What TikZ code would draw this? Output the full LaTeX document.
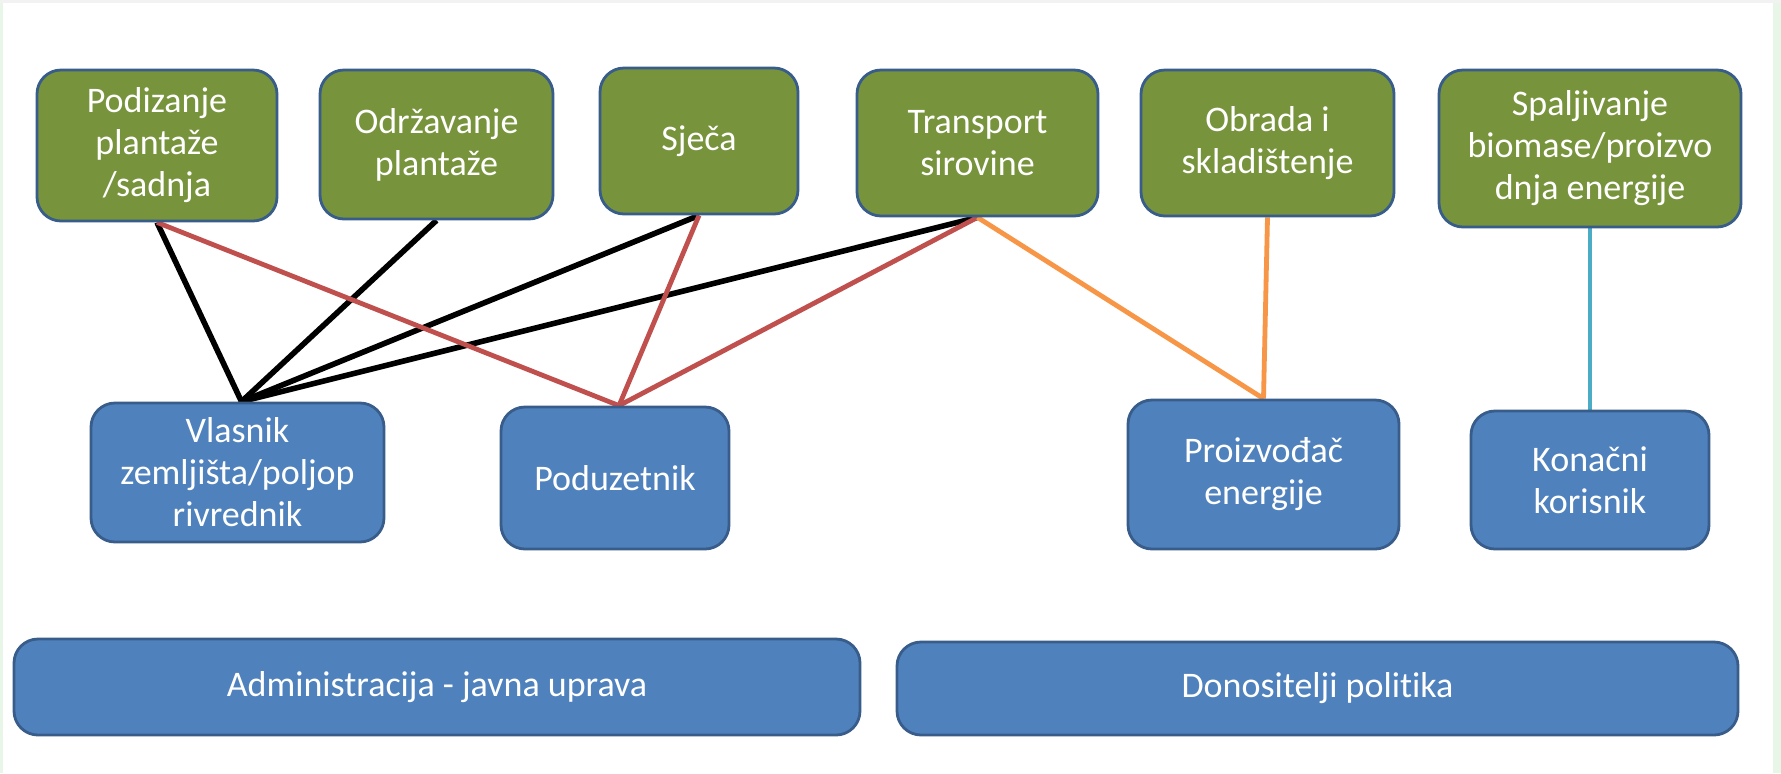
\documentclass[tikz,border=0pt]{standalone}
\usepackage{fontspec}
\setmainfont{Carlito}[Ligatures=NoCommon]
\usetikzlibrary{backgrounds}
\definecolor{stage}{RGB}{119,147,60}
\definecolor{actor}{RGB}{79,129,189}
\definecolor{edge}{RGB}{56,93,138}
\definecolor{linkred}{RGB}{192,80,77}
\definecolor{linkorange}{RGB}{247,150,70}
\definecolor{linkcyan}{RGB}{75,172,198}
\definecolor{rim}{RGB}{232,246,232}
\tikzset{
  box/.style={draw=edge, line width=1.4pt, rounded corners=12pt, text=white,
    align=center, font=\fontsize{18}{21}\selectfont, inner sep=2pt},
  stagebox/.style={box, fill=stage},
  actorbox/.style={box, fill=actor},
  link/.style={line width=2.4pt},
  blacklink/.style={line width=2.8pt, black},
}
\begin{document}
\begin{tikzpicture}[x=0.5pt, y=-0.5pt]
  \useasboundingbox (0,0) rectangle (1781,773);

  % process stages
  \node[stagebox, minimum width=120pt, minimum height=75.5pt] (plant) at (157,145.5) {Podizanje\\plantaže\\/sadnja};
  \node[stagebox, minimum width=116.5pt, minimum height=74.5pt] (care) at (436.5,144.5) {Održavanje\\plantaže};
  \node[stagebox, minimum width=99pt, minimum height=73pt] (cut) at (699,141) {Sječa};
  \node[stagebox, minimum width=120.5pt, minimum height=73pt] (haul) at (977.5,143) {Transport\\sirovine};
  \node[stagebox, minimum width=126.5pt, minimum height=73pt] (store) at (1267.5,143) {Obrada i\\skladištenje};
  \node[stagebox, minimum width=151pt, minimum height=78.5pt] (burn) at (1590,148.5) {Spaljivanje\\biomase/proizvo\\dnja energije};

  % actors
  \node[actorbox, minimum width=146.5pt, minimum height=69.5pt] (owner) at (237.5,472.5) {Vlasnik\\zemljišta/poljop\\rivrednik};
  \node[actorbox, minimum width=114pt, minimum height=71pt] (firm) at (615,478) {Poduzetnik};
  \node[actorbox, minimum width=135.5pt, minimum height=74.5pt] (producer) at (1263.5,474.5) {Proizvođač\\energije};
  \node[actorbox, minimum width=119pt, minimum height=69pt] (user) at (1590,480) {Konačni\\korisnik};

  % institutions
  \node[actorbox, minimum width=423pt, minimum height=48pt] (admin) at (437,687) {Administracija - javna uprava};
  \node[actorbox, minimum width=420.5pt, minimum height=46.5pt] (policy) at (1317.5,688.5) {Donositelji politika};

  \begin{scope}[on background layer]
    % page area with thin tinted rims
    \fill[white] (0,0) rectangle (1781,773);
    \fill[rim] (1773,0) rectangle (1781,773);
    \fill[rim] (0,0) rectangle (3,773);
    \fill[black!5] (0,0) rectangle (1781,3);

    % links between stages and actors
    \coordinate (ownertop) at ([xshift=2pt]owner.north);
    \coordinate (firmtop) at ([xshift=2pt]firm.north);
    \draw[blacklink] (plant.south) -- (ownertop);
    \draw[blacklink] (care.south) -- (ownertop);
    \draw[blacklink] (cut.south) -- (ownertop);
    \draw[blacklink] (haul.south) -- (ownertop);
    \draw[link, linkred] (plant.south) -- (firmtop);
    \draw[link, linkred] (cut.south) -- (firmtop);
    \draw[link, linkred] (haul.south) -- (firmtop);
    \draw[link, linkorange] (haul.south) -- (producer.north);
    \draw[link, linkorange] (store.south) -- (producer.north);
    \draw[link, linkcyan] (burn.south) -- (user.north);
  \end{scope}
\end{tikzpicture}
\end{document}
